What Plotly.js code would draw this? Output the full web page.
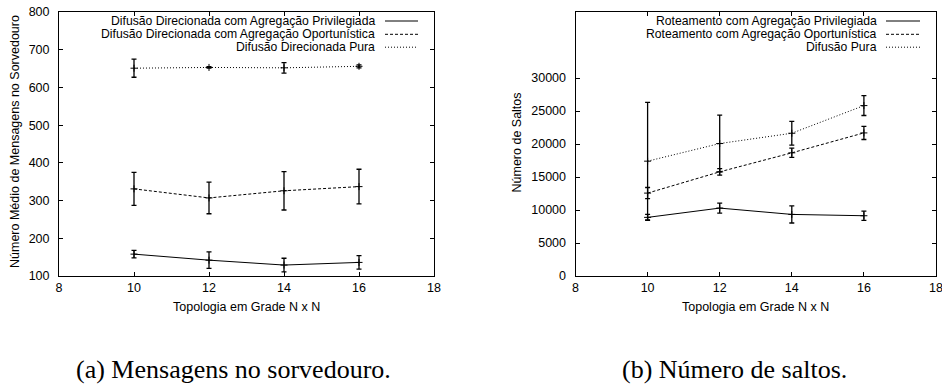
<!DOCTYPE html>
<html>
<head>
<meta charset="utf-8">
<script src="https://cdn.plot.ly/plotly-3.0.1.min.js"></script>
<style>html,body{margin:0;padding:0;background:#fff;}#chart{width:942px;height:385px;}</style>
</head>
<body>
<div id="chart"></div>
<script>
// ---- Data ----
const gridN = [10, 12, 14, 16];

// (a) Mensagens no sorvedouro
const msgPrivilegiada = [158, 142, 129, 136];
const msgPrivilegiadaErr = [10, 22, 18, 18];
const msgOportunistica = [331, 307, 326, 337];
const msgOportunisticaErr = [44, 42, 51, 46];
const msgPura = [651, 653, 652, 656];
const msgPuraErr = [24, 2, 14, 4];

// (b) Número de saltos
const hopPrivilegiada = [8880, 10290, 9330, 9130];
const hopPrivilegiadaErr = [450, 750, 1300, 700];
const hopOportunistica = [12560, 15780, 18660, 21680];
const hopOportunisticaErr = [850, 500, 700, 1000];
const hopPura = [17400, 20070, 21630, 25820];
const hopPuraErr = [8900, 4300, 1800, 1500];

const legendA = ["Difusão Direcionada com Agregação Privilegiada",
                 "Difusão Direcionada com Agregação Oportunística",
                 "Difusão Direcionada Pura"];
const legendB = ["Roteamento com Agregação Privilegiada",
                 "Roteamento com Agregação Oportunística",
                 "Difusão Pura"];

const xTicks = [8, 10, 12, 14, 16, 18];
const yTicksA = [100, 200, 300, 400, 500, 600, 700, 800];
const yTicksB = [0, 5000, 10000, 15000, 20000, 25000, 30000];

// ---- Styles ----
const W = 942, H = 385;
const dashes = ["solid", "3px,2px", "1px,2px"];
const SANS = "Liberation Sans, Arial, sans-serif";
const SERIF = "Liberation Serif, Times New Roman, serif";
const px = v => v / W, py = v => 1 - v / H;

function mk(x, y, err, dash, xa, ya) {
  return {
    x: x, y: y, xaxis: xa, yaxis: ya, type: "scatter", mode: "lines+markers",
    line: {color: "#000", width: 1, dash: dash},
    marker: {symbol: "cross-thin", size: 5, color: "#000", line: {color: "#000", width: 1}},
    error_y: {type: "data", array: err, visible: true, color: "#000", thickness: 1.3, width: 2.5},
    showlegend: false, hoverinfo: "x+y"
  };
}

const data = [
  mk(gridN, msgPrivilegiada, msgPrivilegiadaErr, dashes[0], "x", "y"),
  mk(gridN, msgOportunistica, msgOportunisticaErr, dashes[1], "x", "y"),
  mk(gridN, msgPura, msgPuraErr, dashes[2], "x", "y"),
  mk(gridN, hopPrivilegiada, hopPrivilegiadaErr, dashes[0], "x2", "y2"),
  mk(gridN, hopOportunistica, hopOportunisticaErr, dashes[1], "x2", "y2"),
  mk(gridN, hopPura, hopPuraErr, dashes[2], "x2", "y2")
];

const axBase = {
  showline: true, linecolor: "#000", linewidth: 1, mirror: "ticks",
  ticks: "inside", ticklen: 4, tickcolor: "#000", tickwidth: 1,
  showgrid: false, zeroline: false, ticklabeloverflow: "allow",
  tickfont: {family: SANS, size: 12.5, color: "#000"}
};

const yTop = 12, yBot = 276;
const layout = {
  width: W, height: H, margin: {l: 0, r: 0, t: 0, b: 0},
  paper_bgcolor: "#fff", plot_bgcolor: "#fff", showlegend: false,
  xaxis: Object.assign({}, axBase, {domain: [px(59), px(434)], range: [8, 18], tickvals: xTicks, anchor: "y", ticklabelstandoff: 0}),
  yaxis: Object.assign({}, axBase, {domain: [py(yBot), py(yTop)], range: [100, 800], tickvals: yTicksA, anchor: "x", ticklabelstandoff: 6}),
  xaxis2: Object.assign({}, axBase, {domain: [px(575.5), px(936)], range: [8, 18], tickvals: xTicks, anchor: "y2", ticklabelstandoff: 0}),
  yaxis2: Object.assign({}, axBase, {domain: [py(yBot), py(yTop)], range: [0, 40000], tickvals: yTicksB, tickformat: "d", anchor: "x2", ticklabelstandoff: 6}),
  annotations: [],
  shapes: []
};

function ann(text, x, y, opts) {
  return Object.assign({text: text, x: px(x), y: py(y), xref: "paper", yref: "paper",
    showarrow: false, xanchor: "center", yanchor: "middle",
    font: {family: SANS, size: 12.5, color: "#000"}}, opts || {});
}

// axis titles
layout.annotations.push(ann("Topologia em Grade N x N", 246.5, 307));
layout.annotations.push(ann("Topologia em Grade N x N", 755.75, 307));
layout.annotations.push(ann("Número Médio de Mensagens no Sorvedouro", 15, 142, {textangle: -90}));
layout.annotations.push(ann("Número de Saltos", 516.5, 143, {textangle: -90}));

// captions
layout.annotations.push(ann("(a) Mensagens no sorvedouro.", 233, 369, {font: {family: SERIF, size: 26, color: "#000"}}));
layout.annotations.push(ann("(b) Número de saltos.", 734, 369, {font: {family: SERIF, size: 26, color: "#000"}}));

// legends (text right-aligned, line sample at right)
const rows = [21.0, 34.3, 47.2];
function addLegend(labels, textRight, x0, x1) {
  labels.forEach((lab, i) => {
    layout.annotations.push(ann(lab, textRight, rows[i], {xanchor: "right",
      font: {family: SANS, size: 12.2, color: "#000"}}));
    layout.shapes.push({type: "line", xref: "paper", yref: "paper",
      x0: px(x0), x1: px(x1), y0: py(rows[i]), y1: py(rows[i]),
      line: {color: "#000", width: 1, dash: dashes[i]}});
  });
}
addLegend(legendA, 377, 385, 418);
addLegend(legendB, 878.5, 886, 920);

Plotly.newPlot("chart", data, layout, {staticPlot: true, displayModeBar: false});
</script>
</body>
</html>
